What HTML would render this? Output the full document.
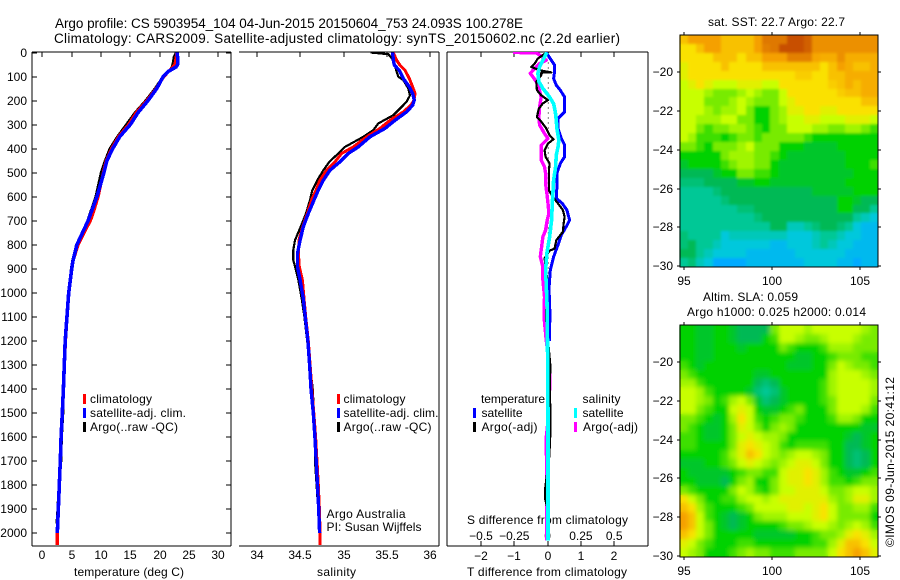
<!DOCTYPE html>
<html lang="en">
<head>
<meta charset="utf-8">
<title>Argo profile CS 5903954_104</title>
<style>
html,body{margin:0;padding:0;background:#fff;}
svg{display:block;}
text{font-family:"Liberation Sans",sans-serif;font-size:12px;fill:#000;}
.t{font-size:13.5px;}
</style>
</head>
<body>
<svg id="fig" xmlns="http://www.w3.org/2000/svg" width="900" height="580" viewBox="0 0 900 580">
<defs>
<filter id="soft" x="-5%" y="-5%" width="110%" height="110%"><feGaussianBlur stdDeviation="2.4"/></filter>
<filter id="softer" x="-5%" y="-5%" width="110%" height="110%"><feGaussianBlur stdDeviation="1.3"/></filter>
<clipPath id="clip-alt"><rect x="679" y="325" width="199" height="232"/></clipPath>
<clipPath id="clip-sst"><rect x="679" y="35" width="199" height="232"/></clipPath>
<clipPath id="clip-p"><rect x="0" y="52" width="680" height="494"/></clipPath>
</defs>
<rect width="900" height="580" fill="#fff"/>
<text class="t" x="55" y="28" textLength="468" lengthAdjust="spacing">Argo profile: CS 5903954_104 04-Jun-2015 20150604_753 24.093S 100.278E</text>
<text class="t" x="54" y="43" textLength="566" lengthAdjust="spacing">Climatology: CARS2009. Satellite-adjusted climatology: synTS_20150602.nc (2.2d earlier)</text>

<text x="74" y="576" textLength="110" lengthAdjust="spacing">temperature (deg C)</text>
<text x="317" y="576" textLength="39" lengthAdjust="spacing">salinity</text>
<text x="467" y="576" textLength="160" lengthAdjust="spacing">T difference from climatology</text>
<text x="467" y="524" textLength="161" lengthAdjust="spacing">S difference from climatology</text>

<text x="90" y="403" textLength="62" lengthAdjust="spacing">climatology</text>
<text x="90" y="417" textLength="96" lengthAdjust="spacing">satellite-adj. clim.</text>
<text x="90" y="431" textLength="88" lengthAdjust="spacing">Argo(..raw -QC)</text>
<rect x="83" y="394" width="3" height="10" fill="#f00"/>
<rect x="83" y="408" width="3" height="10" fill="#00f"/>
<rect x="83" y="422" width="3" height="10" fill="#000"/>

<text x="343.5" y="403" textLength="62" lengthAdjust="spacing">climatology</text>
<text x="343.5" y="417" textLength="95" lengthAdjust="spacing">satellite-adj. clim.</text>
<text x="343.5" y="431" textLength="88" lengthAdjust="spacing">Argo(..raw -QC)</text>
<rect x="337" y="394" width="3" height="10" fill="#f00"/>
<rect x="337" y="408" width="3" height="10" fill="#00f"/>
<rect x="337" y="422" width="3" height="10" fill="#000"/>
<text x="326.5" y="518" textLength="79" lengthAdjust="spacing">Argo Australia</text>
<text x="326.5" y="531" textLength="95" lengthAdjust="spacing">PI: Susan Wijffels</text>

<text x="481" y="403" textLength="64" lengthAdjust="spacing">temperature</text>
<text x="481.5" y="417" textLength="41" lengthAdjust="spacing">satellite</text>
<text x="481.5" y="431" textLength="56" lengthAdjust="spacing">Argo(-adj)</text>
<rect x="473" y="408" width="3" height="10" fill="#00f"/>
<rect x="473" y="422" width="3" height="10" fill="#000"/>
<text x="582.5" y="403" textLength="38" lengthAdjust="spacing">salinity</text>
<text x="582.5" y="417" textLength="41" lengthAdjust="spacing">satellite</text>
<text x="583" y="431" textLength="55" lengthAdjust="spacing">Argo(-adj)</text>
<rect x="574" y="408" width="3" height="10" fill="#0ff"/>
<rect x="574" y="422" width="3" height="10" fill="#f0f"/>

<text x="708" y="26" textLength="137" lengthAdjust="spacing">sat. SST: 22.7 Argo: 22.7</text>
<text x="703" y="301" textLength="95" lengthAdjust="spacing">Altim. SLA: 0.059</text>
<text x="687" y="316" textLength="179" lengthAdjust="spacing">Argo h1000: 0.025 h2000: 0.014</text>
<text transform="translate(894,547) rotate(-90)" textLength="170" lengthAdjust="spacing">©IMOS 09-Jun-2015 20:41:12</text>
</svg>

<script>
const depthTicks = [0,100,200,300,400,500,600,700,800,900,1000,1100,1200,1300,1400,1500,1600,1700,1800,1900,2000];
const tempTicks = [0,5,10,15,20,25,30];
const salTicks = [34,34.5,35,35.5,36];
const tDiffTicks = [-2,-1,0,1,2];
const sDiffTicks = [-0.5,-0.25,0,0.25,0.5];
const sDiffLabels = ["−0.5","−0.25","0","0.25","0.5"];
const latTicks = [-20,-22,-24,-26,-28,-30];
const lonTicks = [95,100,105];

const tempClimDepth = [0,50,80,100,150,200,250,300,350,400,450,500,600,650,700,750,800,870,900,1000,1200,1400,1500,1600,1700,1800,1900,2000,2050];
const tempClimValue = [22.95,22.6,21.5,20.7,19.4,17.8,16,14.7,13,11.8,10.9,10.4,9.5,8.9,8.2,7.1,6.1,5.2,5,4.5,3.95,3.6,3.42,3.22,3.07,2.9,2.73,2.55,2.55];
const tempSatDepth = [0,20,50,60,80,100,150,200,250,300,350,400,450,500,600,700,800,870,900,1000,1200,1400,1500,1600,1700,1800,1900,2000];
const tempSatValue = [22.95,23.05,23.05,22.8,21.4,20.6,19.5,18,16.3,15,13.2,12,11,10.5,9.3,7.8,5.9,5.2,5,4.5,3.9,3.6,3.4,3.2,3.07,2.9,2.73,2.55];
const tempArgoDepth = [0,20,40,60,80,100,150,200,250,300,350,400,450,500,600,700,800,870,900,1000,1200,1400,1500,1600,1700,1800,1830,1900,1960];
const tempArgoValue = [22.8,22.4,22.3,22.1,21.5,20.6,19.2,17.6,15.8,14.3,12.8,11.5,10.7,10,9.1,7.7,5.8,5.1,4.9,4.45,3.9,3.65,3.55,3.3,3.2,2.85,2.75,2.62,2.45];

const salClimDepth = [0,32,53,74,108,143,171,198,219,247,282,316,351,393,420,455,490,531,573,614,670,725,781,836,892,947,1024,1100,1200,1300,1400,1500,1600,1700,1800,1900,2000,2050];
const salClimValue = [35.574,35.612,35.651,35.708,35.758,35.797,35.824,35.812,35.778,35.689,35.536,35.42,35.267,35.113,34.979,34.902,34.806,34.729,34.683,34.633,34.583,34.53,34.487,34.48,34.491,34.526,34.545,34.565,34.595,34.615,34.635,34.658,34.678,34.695,34.71,34.722,34.73,34.73];
const salSatDepth = [0,32,53,74,108,143,171,198,219,247,282,316,351,393,420,455,490,531,573,614,670,725,781,836,892,947,1024,1100,1200,1300,1400,1500,1600,1700,1800,1900,2000];
const salSatValue = [35.567,35.574,35.586,35.643,35.689,35.758,35.797,35.816,35.797,35.727,35.593,35.478,35.305,35.171,35.056,34.96,34.844,34.768,34.71,34.66,34.595,34.537,34.5,34.47,34.47,34.5,34.537,34.56,34.59,34.61,34.626,34.652,34.67,34.686,34.7,34.714,34.725];
const salArgoDepth = [0,7,32,67,101,115,150,178,205,226,261,295,323,351,393,420,455,490,531,573,614,670,725,781,822,864,906,947,1024,1100,1400,1500,1600,1700,1800,1860];
const salArgoValue = [35.313,35.517,35.574,35.601,35.632,35.689,35.747,35.766,35.727,35.67,35.574,35.401,35.344,35.228,35.017,34.94,34.837,34.768,34.699,34.641,34.614,34.568,34.507,34.441,34.422,34.422,34.453,34.48,34.518,34.55,34.645,34.66,34.672,34.672,34.69,34.7];

const tDiffSatDepth = [0,32,53,80,108,136,157,185,247,275,316,358,385,434,462,503,559,607,628,656,698,725,760,802,850,906,989,1030,1100,1200];
const tDiffSatValue = [-0.04,0.11,0.21,0.21,0.18,0.26,0.38,0.51,0.51,0.31,0.31,0.41,0.51,0.51,0.38,0.28,0.28,0.26,0.44,0.58,0.66,0.56,0.41,0.31,0.18,0.08,0.04,0.06,0.07,0.05];
const tDiffArgoDepth = [0,11,25,46,60,74,83,84,94,122,157,178,198,212,233,268,288,316,344,361,379,406,434,462,490,531,573,601,628,656,684,712,746,781,816,825,857,892,934,1030,1100,1300,1400,1560,1680,1810,1860,1900];
const tDiffArgoValue = [-0.02,-0.14,-0.29,-0.39,-0.49,-0.24,0.11,-0.19,-0.19,-0.34,-0.32,-0.19,0.01,-0.14,-0.26,-0.32,-0.19,-0.04,0.06,0.18,0.01,-0.09,-0.06,0.06,0.04,0.04,0.04,0.16,0.31,0.46,0.51,0.48,0.46,0.26,0.21,0.06,-0.09,-0.06,-0.02,-0.02,-0.05,0.08,0.07,0.09,0.05,-0.07,-0.07,0];
const sDiffSatDepth = [0,32,60,88,122,150,185,213,247,282,316,365,393,427,476,531,587,628,698,767,836,906,975,1030,1100,1500,2030];
const sDiffSatValue = [-0.005,-0.035,-0.06,-0.073,-0.065,-0.035,0.015,0.045,0.058,0.065,0.07,0.085,0.078,0.065,0.06,0.045,0.04,0.035,0.03,0.015,-0.005,-0.015,-0.01,-0.005,-0.002,0.003,0.003];
const sDiffArgoDepth = [0,1,11,32,46,67,87,101,122,150,185,226,268,302,337,358,386,413,448,475,503,545,587,628,670,704,739,767,809,850,892,947,1017,1100,1200,1300,1400,1500,1600,1700,1800,1900,2030];
const sDiffArgoValue = [-0.26,-0.085,-0.06,-0.01,-0.06,-0.098,-0.13,-0.11,-0.085,-0.065,-0.048,-0.06,-0.065,-0.06,-0.023,0.003,-0.048,-0.048,-0.048,-0.023,-0.015,-0.015,-0.005,0.003,0.01,-0.005,-0.015,-0.035,-0.045,-0.055,-0.035,-0.035,-0.023,-0.027,-0.01,0.015,0.015,0.01,-0.01,-0.008,-0.005,-0.005,-0.005];

const sstGrid = [
[8.5,9,9,9,9,8.5,8.5,8.5,8.5,9,9.5,9.5,9.5,10,10,9.8,9.2,9.2,9.2,9.2,9.2,9.2,9.2,9.2],
[8,8,8.5,9,9,8.5,8.5,8.5,8.5,9,9.4,9.5,10,10,10,9.8,9.2,9.2,9.2,9.2,9.2,9.2,9.2,9.2],
[8,8,8,8,8.5,8.5,8.5,8,8.5,8.5,9,9,9,9.4,9.4,9.4,8.9,8.8,8.8,9.2,8.8,8.8,8.8,8.8],
[7.5,8,8,8,8,8.5,8,8,8,8,8.5,8.5,8.5,8.5,8.5,8.5,8.5,8,8.5,9,8.8,8.5,8.5,8.8],
[7.5,8,8,8,8,8,8,8,8,8,8,8,8,8,8.3,8.3,8,8,8.5,8.5,8.8,8.8,8.8,8.8],
[7,7.5,8,7.5,7,7,7,7.5,7.5,7.5,7,7,8,8,8,8,8,8,8.3,8.5,8.8,8.5,8.8,8.8],
[7,7,7,6.5,6,6,6,6.5,7,6.5,6,6,7,8,8,8,8,8,8,8.3,8.5,8.5,8.8,8.8],
[7,7,7,6,6,6,6.5,7,6.5,6,6,6,7,7.5,8,8,8,8,8,8,8,8,8.5,8.5],
[7,7,7,6.5,6,6.5,6.5,7,6,5,5,6,6.5,7.5,7.5,8,8,7.5,7.5,8,8,8,8,8],
[7,7,6.5,6.5,6.5,7,7,6,6,5,5,6,6.5,7,7,7.5,7.5,7,7,7,7.5,7.5,7.5,7],
[7,7,6,5.5,6,6,6.5,6.5,6,5.5,5,6,6,7,7,7,6.5,6.5,6,6,6.5,6.5,6,5.5],
[7,6.5,5.5,5.5,5.5,5,5.5,6,6,5.5,6,6,6,6,6,5.5,5,5,5,5,5,5,5,5],
[6,6,5.5,5,6,6,6,6.5,7,6,6,6,5,5,5,4.5,4.5,4.5,4.5,5,5,5,5,5],
[5,5,5,5,5,6,6.5,6.5,6.5,6,6,5.5,5,4.5,4.5,4.5,4.5,4.5,4.5,4.5,5,5,5,5],
[4.5,5,5,5,5,5.5,6,6.5,6.5,6,6,5,4.5,4.5,4.5,4.5,4.5,4.5,4.5,4.5,5,5,5,5.5],
[4,4,4,4,4.5,5,5,6,6,5.5,5.5,5,4.5,4.5,4.5,4.5,4.5,4.5,4.5,4.5,4.5,5,5,5],
[3.5,3.5,3.5,4,4,4,4,4.5,4.5,5,5,4.5,4.5,4.5,4.5,4.5,4.5,4.5,4.5,4.5,5,5,5,5],
[3,3,3,3,3.5,4,4,4,4,4,4,4,4,4,4,4,4.5,4.5,4.5,4.5,4.5,5,5,5],
[3,3,3,3,3,3.5,4,4,4,4,4,4,4,4,4,4,4,4,4,5,5,4.5,4,4],
[3,3,3,3,3,3,3,3.5,3.5,4,4,4,4,4,4,4,4,4,4,5,5,4,4,3],
[3,3,3,3,3,3,3,3,3,3.5,4,4,4,4,4,4,4,4,4,4,4,3,2.5,2],
[3,3,3,3,3,3,3,3,3,3,3,4,4,2.5,2.5,3,3.5,4,4,3.5,3,2,1.5,1.5],
[3.5,3,3,3,3,2,2.5,2.5,2.5,2.5,2.5,2.5,2.5,2,2,2,2.5,3,3,2.5,2,2,1.5,1.5],
[3.5,4,3,3,2.5,2,2,2,2,2,2,1.5,1.5,2,2,2,2.5,3,2.5,2,2,1.5,1.5,1.5],
[4,4,3,2.5,2,2,2,2,1.5,1.5,1.5,1.5,1.5,1.5,2,2,2,2,2,2,1.5,1.5,1.5,1.5],
[3,3.5,2.5,2,1,1,1,1,1.5,1.5,1.5,1.5,1.5,1.5,1.5,2,2,2,2,1.5,1.5,1,1.5,1.5]
];
const slaGrid = [
[5,5,4.5,4.5,5,5,4.5,4,4,4,4,6,7,7,7,6.5,7,7,7,7,7,7,6.5,6],
[5,5,4.5,4.5,5,5,4.5,4,4,4,5,5.5,7,7,6.5,6,6,6.5,7,7,7,6.5,6,6],
[5,5,4.5,4.5,5,5,5,4.5,5,5,5,5,6,5.5,5,5,5,5.5,6.5,6.5,6.5,6,6,6],
[5,5,4.5,4.5,5,5,5,5,5,5,5,5,5,5,4.5,4.5,5,5,5.5,6,6,6,5.5,5.5],
[5.5,5,4.5,5,5,5,5,5,5,5,5,5,5,4.5,4.5,4.5,5,5,6,7,6.5,6,6,5.5],
[6,5.5,5,5,5,5,5,5,5,4.5,4.5,5,5,5,5,5,5,5,6.5,7,7,7,6.5,6],
[6.5,6.5,5.5,5,5,5,5,5,5,4,3.5,4,5,5,5,5,5,5.5,6.5,7,7,7,7,6.5],
[7,7,6.5,5.5,5,5,5,5,4.5,3.5,3,3.5,4.5,5,5,5,5,5.5,6.5,7,7,7,7,6.5],
[7,7,6.5,6,5,5.5,6.5,7,6,4.5,3.5,4,4.5,5,5,5,5,5.5,6,7,7,7,7,6],
[7,7,6,5.5,5,5,7,7.5,7,5,4.5,4.5,5,5.5,6,5,5,5,6,7,7,7,6.5,5.5],
[6,6,5.5,5,4.5,5,6.5,8,7,5.5,5,5.5,6,6,5.5,5,5,5,5.5,6.5,6.5,6,5,5],
[6,5.5,5,4.5,4.5,5,6,7.5,7,6,5,6,6.5,6,5,5,5,5,5,5,5,5,4.5,4.5],
[5.5,5.5,5,4.5,4.5,5,6,7,7.5,7,6.5,6.5,6,5,5,5,5,5,5,5,4.5,4,4.5,5],
[5.5,5.5,5,5,5,5,6,7.5,8,7.5,7,6.5,5.5,5,5.5,5.5,5.5,5.5,5,5,4,4,4.5,5],
[5,5,5,5,5,5.5,6.5,7.5,8.5,8,7,6.5,6,6.5,7,7,6.5,6,5,5,4,3.5,4,5],
[4.5,4.5,4.5,5,5,5.5,6,7,7.5,7,6.5,6,6.5,7,7.5,7.5,7,6,5,5,4,3.5,4,5],
[5,4.5,4.5,4.5,4.5,4.5,5,5.5,6,6,5.5,5.5,7,7.5,7.5,8,7.5,6.5,5.5,5,4.5,4.5,5,5.5],
[5,5,4.5,4.5,4.5,4,5,6,6.5,5,5,6,7,7.5,7.5,8,7.5,6.5,5.5,5.5,5,5.5,6,6],
[6,5.5,5,5,5,5,6,7,6.5,5.5,5,6,7,7,7.5,7.5,7.5,7,6,6,6.5,7,7,6.5],
[8,7,6,5,5,5.5,5.5,6.5,7,7,6.5,7,7.5,7.5,7.5,7.5,7.5,7.5,6.5,6,6.5,7.5,7.5,6.5],
[8.5,8,6.5,5.5,5,5,5,5.5,6,7,7,7,7,7.5,7.5,7,7.5,8,7,6,6,6.5,6.5,5.5],
[9,8.5,7,5.5,5,4.5,4,4.5,5,6,6.5,6.5,6.5,7,7,7,7.5,8,7,6,6,6,6,5],
[9,8.5,7,6,5,4.5,4,4.5,5,5,5,5,5.5,6,6,6.5,7,7,6.5,6,6.5,7,6.5,5.5],
[8.5,8,7,6,5,5,5,5,5,4.5,4.5,4.5,4.5,4.5,5,5,5.5,6,6,6.5,7.5,8,7.5,6.5],
[7.5,7,6,5.5,5,5,5,5.5,5.5,5,5,5,5,5,5,5,5.5,5.5,6.5,7.5,8.5,8.5,8,7],
[7,6.5,6,5,5,5,5.5,6,6.5,6,6,5.5,5.5,5.5,6,6,6,6,7,8,8.5,9,8.5,7.5]
];
const colourStops = [[0,110,255],[0,170,255],[0,200,220],[0,200,150],[0,185,85],[0,210,0],[120,235,0],[200,255,0],[250,225,0],[245,160,0],[200,80,0]];

const NS = 'http://www.w3.org/2000/svg';
const fig = document.getElementById('fig');
const yDepth = d => 52.5 + 0.2403 * d;
const xTemp = t => 42.3 + 5.87 * t;
const xSal = s => 256.7 + 86.8 * (s - 34);
const xTDiff = v => 547.6 + 33.3 * v;
const xSDiff = v => 547.6 + 133.2 * v;
const xLon = lon => 684 + 17.63 * (lon - 95);
const ySst = lat => 72.3 + 19.37 * (-20 - lat);
const ySla = lat => 362.3 + 19.34 * (-20 - lat);

function mk(tag, attrs, parent) {
  const el = document.createElementNS(NS, tag);
  for (const k in attrs) el.setAttribute(k, attrs[k]);
  (parent || fig).appendChild(el);
  return el;
}
function seg(x1, y1, x2, y2, parent) {
  return mk('line', {x1:x1, y1:y1, x2:x2, y2:y2, stroke:'#000', 'stroke-width':1, 'shape-rendering':'crispEdges'}, parent);
}
function label(str, x, y, anchor) {
  const el = mk('text', {x:x, y:y, 'text-anchor':anchor || 'middle'});
  el.textContent = str;
  return el;
}
function profile(xs, depths, xFn, colour, width, name) {
  const pts = depths.map((d, i) => xFn(xs[i]).toFixed(1) + ',' + yDepth(d).toFixed(1)).join(' ');
  const el = mk('polyline', {points:pts, fill:'none', stroke:colour, 'stroke-width':width, 'clip-path':'url(#clip-p)', 'shape-rendering':'crispEdges', 'stroke-linejoin':'round'});
  
  
}
function colourFor(v) {
  const i = Math.max(0, Math.min(colourStops.length - 2, Math.floor(v)));
  const f = v - i, a = colourStops[i], b = colourStops[i + 1];
  return 'rgb(' + a.map((c, n) => Math.round(c + (b[n] - c) * f)).join(',') + ')';
}
function drawCells(grid, top, height, parent, name) {
  const left = xLon(94.75), right = xLon(106);
  const rows = grid.length, cols = grid[0].length;
  grid.forEach((row, r) => row.forEach((v, c) => {
    const x0 = Math.round(left + (right - left) * c / cols);
    const x1 = Math.round(left + (right - left) * (c + 1) / cols);
    const y0 = Math.round(top + height * r / rows);
    const y1 = Math.round(top + height * (r + 1) / rows);
    const el = mk('rect', {x:x0, y:y0, width:x1 - x0, height:y1 - y0, fill:colourFor(v), 'shape-rendering':'crispEdges'}, parent);
    
    
  }));
}

/* Panel frames */
const axisTop = 52, axisBottom = 546;
function panelFrame(left, right, hasLeft, name) {
  const g = mk('g', {});
  
  
  seg(left, axisTop, right, axisTop, g);
  seg(left, axisBottom, right, axisBottom, g);
  if (hasLeft) seg(left, axisTop, left, axisBottom, g);
  seg(right, axisTop, right, axisBottom, g);
  return g;
}
const frameT = panelFrame(32, 231, true, 'temperature-axes');
const frameS = panelFrame(239, 439, false, 'salinity-axes');
const frameD = panelFrame(447, 648, true, 'difference-axes');

/* Depth ticks and labels */
depthTicks.forEach(d => {
  const y = Math.round(yDepth(d));
  seg(32, y, 37, y, frameT);
  seg(226, y, 231, y, frameT);
  const t = label(String(d), 27, y + 4, 'end');
  
  
});
/* Temperature x ticks */
tempTicks.forEach(v => {
  const x = Math.round(xTemp(v));
  seg(x, 52, x, 57, frameT);
  const t = label(String(v), x, 559);
  
  
});
/* Salinity x ticks */
salTicks.forEach(v => {
  const x = Math.round(xSal(v));
  seg(x, 52, x, 57, frameS);
  const t = label(String(v), x, 559);
  
  
});
/* Difference ticks */
tDiffTicks.forEach(v => {
  const x = Math.round(xTDiff(v));
  seg(x, 52, x, 57, frameD);
  seg(x, 541, x, 546, frameD);
  const t = label(String(v).replace('-', '−'), x, 560);
  
  
});
sDiffTicks.forEach((v, i) => {
  const t = label(sDiffLabels[i], xSDiff(v), 540);
  
  
});

/* Zero reference line */
const zero = mk('line', {x1:xTDiff(0) + 0.7, y1:yDepth(0), x2:xTDiff(0) + 0.7, y2:yDepth(950), stroke:'#000', 'stroke-width':1, 'stroke-dasharray':'1 4'});



/* Series */
profile(tempArgoValue, tempArgoDepth, xTemp, '#000', 2.5, 'temperature-argo-line');
profile(tempClimValue, tempClimDepth, xTemp, '#f00', 3.2, 'temperature-climatology-line');
profile(tempSatValue, tempSatDepth, xTemp, '#00f', 3.6, 'temperature-satellite-line');
profile(salArgoValue, salArgoDepth, xSal, '#000', 2.2, 'salinity-argo-line');
profile(salClimValue, salClimDepth, xSal, '#f00', 3, 'salinity-climatology-line');
profile(salSatValue, salSatDepth, xSal, '#00f', 3.4, 'salinity-satellite-line');
profile(tDiffSatValue, tDiffSatDepth, xTDiff, '#00f', 3, 't-difference-satellite-line');
profile(sDiffArgoValue, sDiffArgoDepth, xSDiff, '#f0f', 3.4, 's-difference-argo-line');
profile(tDiffArgoValue, tDiffArgoDepth, xTDiff, '#000', 2.2, 't-difference-argo-line');
profile(sDiffSatValue, sDiffSatDepth, xSDiff, '#0ff', 3.6, 's-difference-satellite-line');

/* Maps */
function mapAxes(yFn, top, bottom, grid, clipId, filterId, name) {
  const g = mk('g', {});
  
  
  const left = Math.round(xLon(94.75)), right = Math.round(xLon(106));
  drawCells(grid, top, bottom - top, g, name + '-cell');
  const wrap = mk('g', {'clip-path':'url(#' + clipId + ')'}, g);
  const soft = mk('g', {filter:'url(#' + filterId + ')'}, wrap);
  drawCells(grid, top, bottom - top, soft, name + '-smoothed-cell');
  mk('rect', {x:left, y:top, width:right - left, height:bottom - top, fill:'none', stroke:'#000', 'stroke-width':1, 'shape-rendering':'crispEdges'}, g);
  latTicks.forEach(lat => {
    const y = Math.round(yFn(lat));
    seg(left - 3, y, left, y, g);
    seg(right, y, right + 3, y, g);
    const t = label(String(lat).replace('-', '−'), 673, y + 4, 'end');
    
    
  });
  lonTicks.forEach(lon => {
    const x = Math.round(xLon(lon));
    seg(x, top - 3, x, top, g);
    seg(x, bottom, x, bottom + 3, g);
    const t = label(String(lon), x, bottom + 18);
    
    
  });
}
mapAxes(ySst, 35, 267, sstGrid, 'clip-sst', 'softer', 'sst-map');
mapAxes(ySla, 325, 557, slaGrid, 'clip-alt', 'soft', 'sla-map');
</script>
</body>
</html>
